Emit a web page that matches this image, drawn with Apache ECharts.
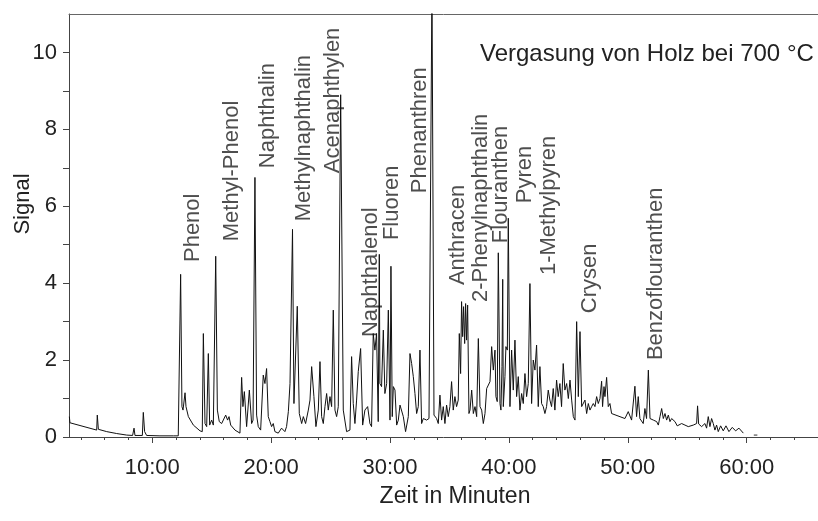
<!DOCTYPE html>
<html><head><meta charset="utf-8">
<script src="https://cdn.jsdelivr.net/npm/echarts@6/dist/echarts.min.js"></script>
<style>html,body{margin:0;padding:0;background:#fff}#c{width:818px;height:521px}</style>
</head><body><div id="c"></div>
<script>
// Retention time (minutes)
const times = [3.03,3.08,5.33,5.38,5.47,6.17,7.01,7.85,8.35,8.47,8.55,9.17,9.25,9.36,9.53,10.65,11.58,11.66,11.78,12.19,
12.39,12.50,12.59,12.76,12.84,13.04,13.46,14.02,14.21,14.30,14.44,14.58,14.72,14.83,15.00,15.14,15.34,15.48,15.64,15.84,
15.98,16.18,16.34,16.46,16.60,16.96,17.38,17.52,17.63,17.75,17.94,18.17,18.36,18.48,18.64,18.78,18.92,19.12,19.34,19.48,
19.62,19.76,19.90,20.04,20.18,20.32,20.46,20.60,20.88,21.16,21.30,21.45,21.59,21.80,21.92,22.06,22.20,22.37,22.57,22.71,
22.90,23.13,23.27,23.41,23.60,23.77,23.97,24.11,24.25,24.39,24.53,24.67,24.81,24.95,25.09,25.23,25.37,25.51,25.65,25.85,
26.07,26.35,26.63,26.77,26.91,27.05,27.19,27.33,27.53,27.70,27.89,28.12,28.31,28.45,28.59,28.73,28.87,29.01,29.10,29.15,
29.29,29.44,29.57,29.72,29.86,30.00,30.08,30.19,30.28,30.42,30.56,30.70,30.84,31.12,31.31,31.54,31.68,31.82,31.96,32.10,
32.24,32.38,32.52,32.66,32.80,33.08,33.28,33.53,33.70,33.92,34.06,34.20,34.34,34.48,34.62,34.76,34.90,35.04,35.18,35.32,
35.46,35.60,35.74,35.83,35.94,36.02,36.11,36.19,36.28,36.36,36.44,36.53,36.64,36.73,36.87,37.01,37.15,37.29,37.43,37.57,
37.71,37.85,37.99,38.13,38.27,38.41,38.55,38.69,38.83,38.91,39.02,39.11,39.25,39.33,39.42,39.48,39.53,39.67,39.75,39.87,
39.95,40.09,40.23,40.37,40.51,40.65,40.79,40.93,41.07,41.21,41.35,41.49,41.63,41.77,41.91,42.05,42.19,42.33,42.47,42.61,
42.75,42.89,43.03,43.17,43.31,43.45,43.59,43.73,43.87,44.01,44.15,44.29,44.43,44.57,44.71,44.86,45.00,45.14,45.28,45.42,
45.56,45.70,45.84,45.98,46.12,46.26,46.40,46.54,46.68,46.82,46.96,47.10,47.24,47.38,47.52,47.66,47.80,47.88,48.00,48.08,
48.22,48.36,48.50,48.64,48.78,49.76,50.04,50.18,50.32,50.60,50.74,50.88,51.02,51.30,51.44,51.58,51.73,51.87,52.15,52.43,
52.57,52.71,52.85,52.99,53.13,53.27,53.41,53.55,53.69,53.83,53.97,54.16,54.53,54.81,55.09,55.51,55.79,55.87,55.96,56.21,
56.49,56.63,56.77,56.91,57.05,57.19,57.33,57.47,57.61,57.81,58.03,58.26,58.51,58.79,59.07,59.35,59.72];
// Detector signal
const signals = [0.53,0.37,0.18,0.57,0.20,0.14,0.09,0.05,0.04,0.23,0.04,0.04,0.64,0.14,0.04,0.03,0.03,0.06,0.03,0.03,
4.23,0.79,0.70,1.15,0.79,0.53,0.31,0.16,0.14,2.69,0.35,0.27,2.17,0.31,0.44,0.31,4.70,0.70,0.40,0.35,
0.31,0.57,0.44,0.53,0.31,0.18,0.10,1.55,0.79,1.18,0.27,1.22,0.35,0.44,6.75,0.57,0.27,0.18,1.61,1.39,
1.78,0.53,0.40,0.27,0.35,0.14,0.18,0.10,0.23,0.14,0.27,0.66,1.39,5.40,0.87,0.92,3.40,0.61,0.35,0.53,
0.35,0.70,0.96,1.83,1.05,0.27,0.70,1.96,0.53,0.35,0.79,1.13,0.70,1.05,0.79,3.30,0.70,0.53,0.79,8.90,
0.70,0.14,0.18,2.09,0.87,0.35,0.96,1.70,2.30,0.31,0.70,0.79,0.35,0.27,2.69,2.26,2.69,0.40,4.75,1.39,
1.31,2.78,1.13,1.39,3.30,0.44,4.44,0.53,1.31,1.22,0.31,0.44,0.83,0.53,0.14,0.53,2.17,1.91,1.57,1.13,
0.61,0.79,2.26,0.35,0.48,0.44,0.48,11.80,0.57,0.48,0.35,1.09,0.44,0.79,0.35,0.83,0.53,0.79,1.44,0.70,
1.05,0.79,0.96,2.69,1.65,3.52,2.61,3.39,2.43,3.47,2.52,3.43,0.61,0.70,1.22,0.61,0.79,0.53,2.56,0.79,
0.70,0.35,0.61,1.26,1.22,1.44,2.35,1.74,2.26,1.05,0.92,4.79,0.87,0.70,1.83,4.10,0.79,1.57,2.35,2.26,
5.69,0.79,2.26,1.22,2.52,1.05,1.57,0.70,1.13,0.87,1.65,1.05,1.39,3.99,0.87,2.00,1.74,2.39,0.79,1.83,
0.87,0.79,0.61,0.79,1.22,0.96,0.79,1.26,0.70,1.48,1.05,1.39,0.79,1.91,1.22,1.39,1.00,1.48,0.96,0.53,
0.44,3.00,1.05,2.74,0.79,0.79,0.96,0.61,0.87,0.70,0.79,0.87,0.79,1.05,0.87,1.00,1.45,0.79,1.31,1.05,
1.55,0.79,0.87,0.61,0.57,0.48,0.66,0.70,0.44,1.32,0.53,1.05,0.48,0.35,0.74,0.48,1.74,0.48,0.44,0.40,
0.31,0.53,0.74,0.48,0.61,0.44,0.57,0.40,0.48,0.53,0.40,0.29,0.35,0.31,0.27,0.31,0.35,0.81,0.34,0.27,
0.35,0.23,0.53,0.27,0.48,0.35,0.18,0.31,0.14,0.29,0.16,0.29,0.14,0.25,0.16,0.23,0.10];
// small trailing mark near 60 min
const tailTimes = [60.6, 60.9];
const tailSignals = [0.05, 0.05];

// Compound annotations: name, time, level of the label's lower end
const compoundNames = ['Phenol','Methyl-Phenol','Naphthalin','Methylnaphthalin','Acenaphthylen','Naphthalenol','Fluoren','Phenanthren','Anthracen','2-Phenylnaphthalin','Flouranthen','Pyren','1-Methylpyren','Crysen','Benzoflouranthen'];
const compoundTimes = [13.43,16.71,19.74,22.76,25.20,28.40,30.17,32.52,35.72,37.65,39.33,41.35,43.37,46.82,52.37];
const compoundLevels = [4.55,5.09,6.99,5.61,6.86,2.60,5.12,6.34,3.95,3.51,5.04,6.08,4.21,3.22,2.00];

const xMajorTicks = [10,20,30,40,50,60];
const xTickLabels = ['10:00','20:00','30:00','40:00','50:00','60:00'];
const xMinorTicks = [4,6,8,12,14,16,18,22,24,26,28,32,34,36,38,42,44,46,48,52,54,56,58,62,64];
const yTicks = [0,1,2,3,4,5,6,7,8,9,10];
const yTickLabels = [0,2,4,6,8,10];

const FONT = "'Liberation Sans', Arial, sans-serif";
const TXT = '#222';
const AX = '#444';

const chart = echarts.init(document.getElementById('c'), null, {renderer:'canvas'});
const xBase = {type:'value', min:3, max:66, splitLine:{show:false}};
chart.setOption({
  animation:false,
  backgroundColor:'#fff',
  grid:{left:69, right:0, top:14, bottom:84, containLabel:false},
  xAxis:[
    Object.assign({}, xBase, {position:'bottom',
      axisLine:{show:true, onZero:false, lineStyle:{color:AX, width:1}},
      axisTick:{show:true, customValues:xMajorTicks, length:6, lineStyle:{color:AX}},
      axisLabel:{show:true, customValues:xMajorTicks, margin:20, fontSize:22, fontFamily:FONT, color:TXT,
        formatter:v => xTickLabels[xMajorTicks.indexOf(v)]}}),
    Object.assign({}, xBase, {position:'bottom',
      axisLine:{show:false, onZero:false},
      axisTick:{show:true, customValues:xMinorTicks, length:3, lineStyle:{color:AX}},
      axisLabel:{show:false}}),
    Object.assign({}, xBase, {position:'top',
      axisLine:{show:true, onZero:false, lineStyle:{color:'#666', width:1}},
      axisTick:{show:false}, axisLabel:{show:false}})
  ],
  yAxis:[{type:'value', min:0, max:11, position:'left', splitLine:{show:false},
    axisLine:{show:true, onZero:false, lineStyle:{color:AX, width:1}},
    axisTick:{show:true, customValues:yTicks, length:6, lineStyle:{color:AX}},
    axisLabel:{show:true, customValues:yTickLabels, margin:12, fontSize:22, fontFamily:FONT, color:TXT}}],
  graphic:[
    {type:'text', left:480, top:42, style:{text:'Vergasung von Holz bei 700 °C', fontSize:24, fontFamily:FONT, fill:TXT}},
    {type:'text', x:455, y:497, style:{text:'Zeit in Minuten', fontSize:23, fontFamily:FONT, fill:TXT, align:'center', verticalAlign:'middle'}},
    {type:'text', x:23, y:204, rotation:Math.PI/2, style:{text:'Signal', fontSize:22, fontFamily:FONT, fill:TXT, align:'center', verticalAlign:'middle'}}
  ],
  series:[
    {type:'line', xAxisIndex:0, yAxisIndex:0, data:times.map((t,i)=>[t, signals[i]]),
      showSymbol:false, symbol:'none', clip:true, lineStyle:{color:'#111', width:1}},
    {type:'line', xAxisIndex:0, yAxisIndex:0, data:tailTimes.map((t,i)=>[t, tailSignals[i]]),
      showSymbol:false, symbol:'none', lineStyle:{color:'#333', width:1}},
    {type:'scatter', xAxisIndex:0, yAxisIndex:0, symbolSize:1, itemStyle:{color:'rgba(0,0,0,0)'},
      data:compoundTimes.map((t,i)=>[t, compoundLevels[i]]),
      label:{show:true, position:'inside', rotate:90, align:'left', verticalAlign:'middle',
        fontSize:22, fontFamily:FONT, color:TXT, formatter:p => compoundNames[p.dataIndex]}}
  ]
});
</script></body></html>
